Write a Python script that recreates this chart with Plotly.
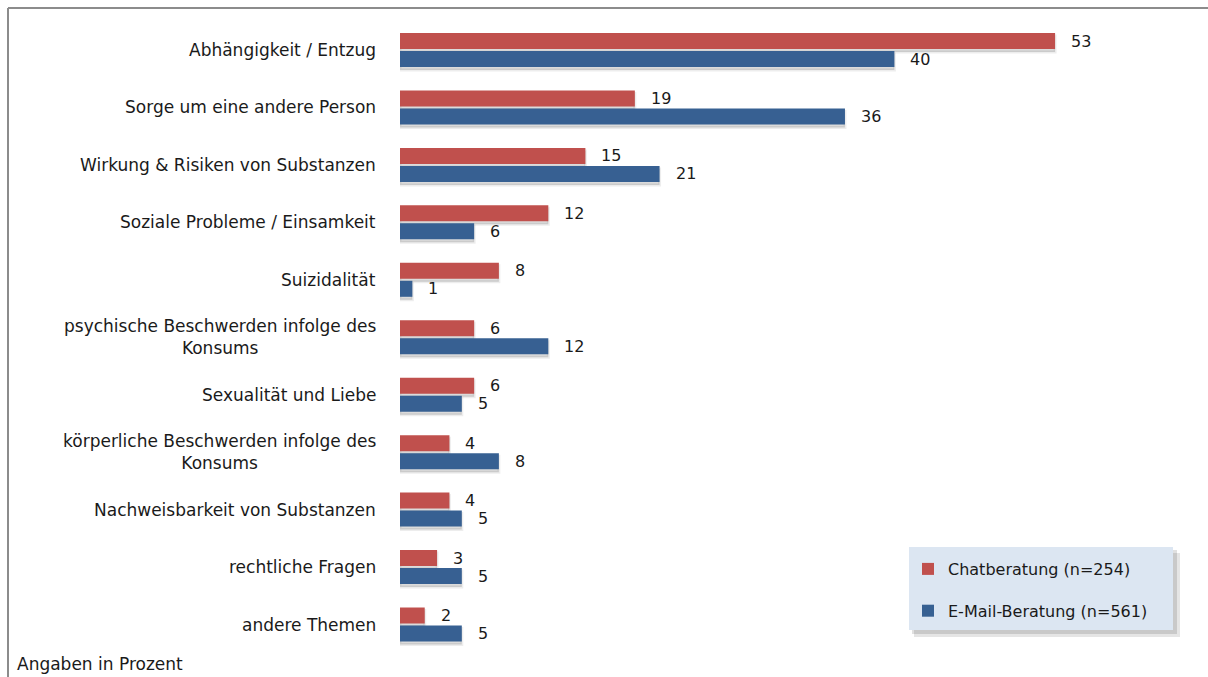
import plotly.graph_objects as go

# Themen der Beratungsanfragen, Angaben in Prozent
categories = [
    "Abhängigkeit / Entzug",
    "Sorge um eine andere Person",
    "Wirkung & Risiken von Substanzen",
    "Soziale Probleme / Einsamkeit",
    "Suizidalität",
    "psychische Beschwerden infolge des<br>Konsums",
    "Sexualität und Liebe",
    "körperliche Beschwerden infolge des<br>Konsums",
    "Nachweisbarkeit von Substanzen",
    "rechtliche Fragen",
    "andere Themen",
]
chat_values = [53, 19, 15, 12, 8, 6, 6, 4, 4, 3, 2]
email_values = [40, 36, 21, 6, 1, 12, 5, 8, 5, 5, 5]
series_names = ["Chatberatung (n=254)", "E-Mail-Beratung (n=561)"]

W, H = 1208, 677
RED = "#c0504d"
BLUE = "#376092"
FONT = "DejaVu Sans"
TXT = "#1a1a1a"

pos = list(range(len(categories)))
px_per_unit = 57.45           # vertical distance between category rows
bar_w = 16 / px_per_unit
red_off = -17 / px_per_unit
blue_off = 1 / px_per_unit
shadow_dy = 3 / px_per_unit


def px(x):
    return x / W


def py(y):
    return 1 - y / H


fig = go.Figure()

# soft drop shadows under the bars
for vals, off in ((chat_values, red_off), (email_values, blue_off)):
    fig.add_trace(go.Bar(
        x=vals, y=pos, orientation="h", width=bar_w, offset=off + shadow_dy,
        marker=dict(color="rgba(0,0,0,0.14)", line=dict(color="rgba(0,0,0,0.07)", width=3)),
        showlegend=False, hoverinfo="skip",
    ))

fig.add_trace(go.Bar(
    x=chat_values, y=pos, orientation="h", width=bar_w, offset=red_off,
    marker=dict(color=RED, line=dict(width=0)), name=series_names[0],
    legendgroup="a",
))
fig.add_trace(go.Bar(
    x=email_values, y=pos, orientation="h", width=bar_w, offset=blue_off,
    marker=dict(color=BLUE, line=dict(width=0)), name=series_names[1],
    legendgroup="b",
))

red_mid = red_off + bar_w / 2
blue_mid = blue_off + bar_w / 2

annotations = []
# category labels, right-aligned next to the bars
for i, cat in enumerate(categories):
    annotations.append(dict(
        x=px(378), xref="paper", y=i, yref="y", text=cat, showarrow=False,
        xanchor="right", yanchor="middle", align="center",
        font=dict(family=FONT, size=17, color=TXT),
    ))
# value labels
for i, (c, e) in enumerate(zip(chat_values, email_values)):
    annotations.append(dict(
        x=c, y=i + red_mid, xref="x", yref="y", text=str(c), showarrow=False,
        xanchor="left", yanchor="middle", xshift=14,
        font=dict(family=FONT, size=16, color=TXT),
    ))
    annotations.append(dict(
        x=e, y=i + blue_mid, xref="x", yref="y", text=str(e), showarrow=False,
        xanchor="left", yanchor="middle", xshift=14,
        font=dict(family=FONT, size=16, color=TXT),
    ))
annotations.append(dict(
    x=px(15), y=py(664), xref="paper", yref="paper", text="Angaben in Prozent",
    showarrow=False, xanchor="left", yanchor="middle",
    font=dict(family=FONT, size=17, color=TXT),
))

shapes = [
    # chart frame
    dict(type="line", xref="paper", yref="paper", x0=px(8), x1=px(W), y0=py(8), y1=py(8),
         line=dict(color="#8c8c8c", width=2)),
    dict(type="line", xref="paper", yref="paper", x0=px(8), x1=px(8), y0=py(8), y1=py(H),
         line=dict(color="#8c8c8c", width=2)),
    # legend shadow and box
    dict(type="rect", xref="paper", yref="paper", x0=px(914), x1=px(1180), y0=py(553), y1=py(637),
         fillcolor="rgba(0,0,0,0.10)", line=dict(width=0), layer="below"),
    dict(type="rect", xref="paper", yref="paper", x0=px(912), x1=px(1177), y0=py(550), y1=py(634),
         fillcolor="rgba(0,0,0,0.12)", line=dict(width=0), layer="below"),
    dict(type="rect", xref="paper", yref="paper", x0=px(909), x1=px(1173), y0=py(547), y1=py(630),
         fillcolor="#dce6f2", line=dict(width=0), layer="below"),
]

top = -50 / px_per_unit
bottom = top + H / px_per_unit

fig.update_layout(
    width=W, height=H,
    margin=dict(l=0, r=0, t=0, b=0),
    paper_bgcolor="white", plot_bgcolor="rgba(0,0,0,0)",
    barmode="overlay",
    xaxis=dict(domain=[px(400), px(1200)], range=[0, 800 / 12.36], visible=False, fixedrange=True),
    yaxis=dict(range=[bottom, top], visible=False, fixedrange=True),
    showlegend=True,
    legend=dict(
        x=px(908), y=py(552), xanchor="left", yanchor="top",
        bgcolor="rgba(0,0,0,0)", borderwidth=0,
        font=dict(family=FONT, size=16, color=TXT),
        traceorder="grouped", tracegroupgap=18,
    ),
    annotations=annotations,
    shapes=shapes,
)

fig.write_html("out.html")
